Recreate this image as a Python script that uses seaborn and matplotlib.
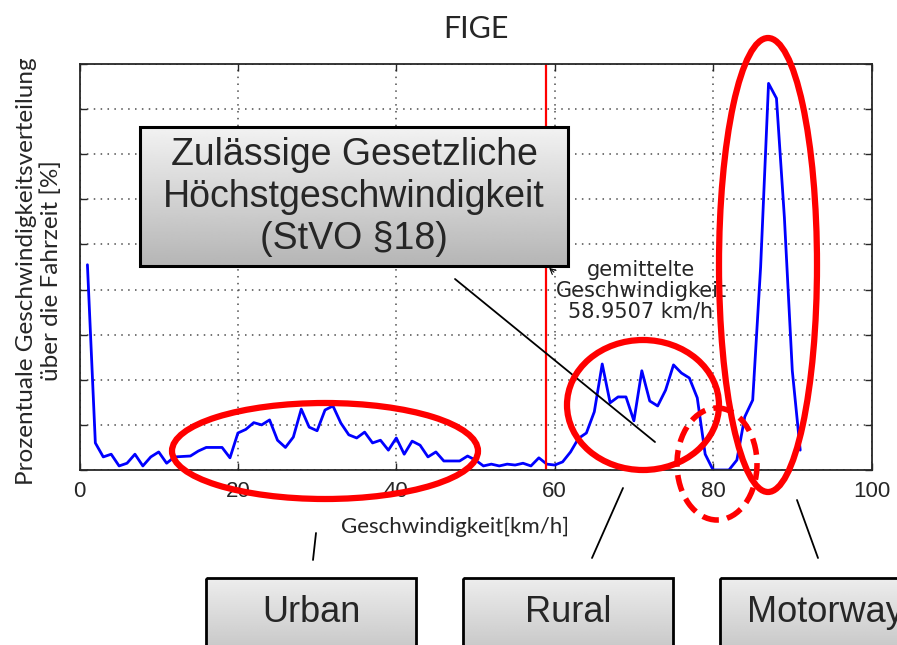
import numpy as np
import pandas as pd
import matplotlib
matplotlib.use("Agg")
import matplotlib.pyplot as plt
import seaborn as sns
from matplotlib.patches import Ellipse, Rectangle

# ---------------- data ----------------
speed = list(range(1, 92))
share = [4.55, 0.60, 0.29, 0.35, 0.09, 0.15, 0.35, 0.09, 0.29, 0.40,
         0.15, 0.29, 0.30, 0.31, 0.42, 0.50, 0.50, 0.50, 0.27, 0.82,
         0.90, 1.05, 1.00, 1.11, 0.66, 0.50, 0.73, 1.35, 0.95, 0.87,
         1.33, 1.42, 1.04, 0.78, 0.71, 0.84, 0.60, 0.66, 0.44, 0.71,
         0.35, 0.64, 0.55, 0.29, 0.40, 0.20, 0.20, 0.20, 0.31, 0.22,
         0.09, 0.13, 0.09, 0.13, 0.11, 0.15, 0.09, 0.27, 0.13, 0.11,
         0.18, 0.40, 0.70, 0.82, 1.29, 2.35, 1.49, 1.62, 1.62, 1.09,
         2.20, 1.53, 1.42, 1.77, 2.33, 2.15, 2.04, 1.60, 0.35, 0.00,
         0.00, 0.00, 0.22, 1.18, 1.55, 4.50, 8.57, 8.24, 5.60, 2.20, 0.44]
mean_speed = 58.9507
x_ticks = [0, 20, 40, 60, 80, 100]
y_ticks = [0, 1, 2, 3, 4, 5, 6, 7, 8, 9]
title = "FIGE"
x_label = "Geschwindigkeit[km/h]"
y_label = "Prozentuale Geschwindigkeitsverteilung\nüber die Fahrzeit [%]"
legal_text = "Zulässige Gesetzliche\nHöchstgeschwindigkeit\n(StVO §18)"
mean_text = "gemittelte\nGeschwindigkeit\n58.9507 km/h"
regions = ["Urban", "Rural", "Motorway"]

# ---------------- style ----------------
sns.set_style("ticks")
plt.rcParams["font.family"] = ["Liberation Sans", "DejaVu Sans"]

W, H = 897, 645
fig = plt.figure(figsize=(W / 100, H / 100), dpi=100)
ax = fig.add_axes([79.5 / W, 1 - 470 / H, 792 / W, 406 / H])

df = pd.DataFrame({"speed": speed, "share": share})
sns.lineplot(data=df, x="speed", y="share", color="#0000ff", lw=2.0, ax=ax)
ax.axvline(mean_speed, color="red", lw=1.6)

ax.set_xlim(0, 100)
ax.set_ylim(0, 9)
ax.set_xticks(x_ticks)
ax.set_xticklabels([str(t) for t in x_ticks], fontsize=16, family="Liberation Sans")
ax.set_yticks(y_ticks)
ax.set_yticklabels([])
ax.tick_params(direction="in", length=5, width=1, top=True, right=True, pad=8)
ax.grid(True, color="0.3", linestyle=(0, (1, 3.5)), lw=1.1)
for s in ax.spines.values():
    s.set_color("0.15")
    s.set_linewidth(1.3)

ax.set_xlabel(x_label, fontsize=16, family="Lato")
ax.xaxis.set_label_coords(0.474, -0.115)
ax.set_ylabel(y_label, fontsize=17.5, family="Lato", linespacing=1.2)
ax.yaxis.set_label_coords(-0.022, 0.49)
ax.set_title(title, fontsize=22, family="Lato", pad=19)

# ---------------- annotation overlay (pixel coordinates) ----------------
ov = fig.add_axes([0, 0, 1, 1])
ov.patch.set_alpha(0)
ov.axis("off")


def grad_box(x0, y0, x1, y1, c_top, c_bot, lw=2.0, z=5):
    grad = np.linspace(c_top, c_bot, 256).reshape(-1, 1)
    ov.imshow(grad, cmap="gray", vmin=0, vmax=1, extent=[x0, x1, y1, y0],
              aspect="auto", zorder=z, interpolation="bilinear")
    ov.add_patch(Rectangle((x0, y0), x1 - x0, y1 - y0, fill=False,
                           ec="black", lw=lw, zorder=z + 0.1))


# pointer from legal box to rural region
ov.plot([455, 655], [279, 442], color="black", lw=1.3, zorder=4)

# legal speed box
grad_box(140, 127, 568, 266, 0.95, 0.71, lw=2.2)
ov.text(354, 197, legal_text, ha="center", va="center", fontsize=27,
        family="Liberation Sans", linespacing=1.2, zorder=6)

# mean speed text
ov.text(641, 291, mean_text, ha="center", va="center", fontsize=15,
        family="DejaVu Sans", linespacing=1.05, zorder=6)
ov.annotate("", xy=(547, 266), xytext=(556, 274),
            arrowprops=dict(arrowstyle="->", color="black", lw=0.8), zorder=6)

# red ellipses
red = "#ff0000"
ov.add_patch(Ellipse((325, 451), 306, 96, fill=False, ec=red, lw=4.5, zorder=7))
ov.add_patch(Ellipse((643, 405), 152, 130, fill=False, ec=red, lw=4.5, zorder=7))
ov.add_patch(Ellipse((717, 464), 80, 112, fill=False, ec=red, lw=4,
                     linestyle=(0, (3, 1.5)), zorder=7))
ov.add_patch(Ellipse((768, 265), 98, 454, fill=False, ec=red, lw=4.5, zorder=7))

# connector lines to region boxes
ov.plot([316, 313], [533, 560], color="black", lw=1.3, zorder=4)
ov.plot([623, 592], [488, 558], color="black", lw=1.3, zorder=4)
ov.plot([797, 818], [500, 558], color="black", lw=1.3, zorder=4)

# region boxes
box_x = [206, 463, 720]
for bx, name in zip(box_x, regions):
    grad_box(bx, 578, bx + 210, 690, 0.93, 0.70, lw=2.0)
    ov.text(bx + 105, 612, name, ha="center", va="center", fontsize=26,
            family="Liberation Sans", zorder=6)

ov.set_xlim(0, W)
ov.set_ylim(H, 0)

fig.savefig("out.png", dpi=100)
